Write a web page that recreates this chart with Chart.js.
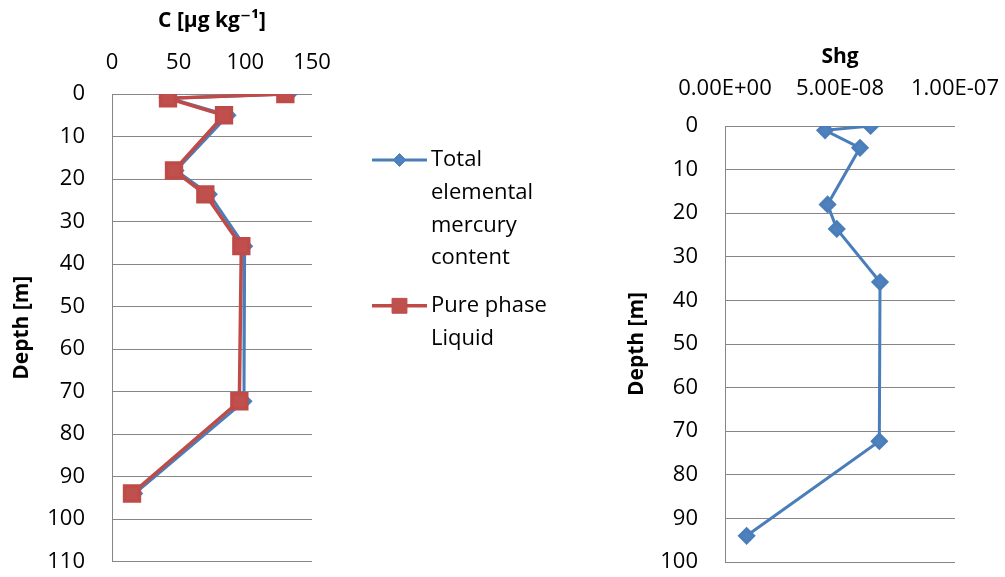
<!DOCTYPE html>
<html>
<head>
<meta charset="utf-8">
<script src="https://cdn.jsdelivr.net/npm/chart.js@4.4.0/dist/chart.umd.min.js"></script>
<style>
  html, body { margin: 0; padding: 0; background: #fff; overflow: hidden; }
  #wrap { position: relative; width: 1005px; height: 577px; overflow: hidden; }
  #concChart { position: absolute; left: 0; top: 0; }
  #shgChart { position: absolute; left: 600px; top: 0; }
</style>
</head>
<body>
<div id="wrap">
  <canvas id="concChart" width="600" height="577"></canvas>
  <canvas id="shgChart" width="460" height="577"></canvas>
</div>
<script>
// Sampling depths (m)
const depths = [0, 1, 5, 18, 23.6, 35.8, 72.3, 94];
// Concentration profiles, µg/kg
const totalHg = [133, 43, 87, 48, 73, 99.5, 99, 17];
const pureLiquid = [130, 42, 84, 46.5, 70, 97, 95.5, 15];
// Shg profile
const shg = [6.33e-8, 4.35e-8, 5.87e-8, 4.46e-8, 4.86e-8, 6.74e-8, 6.71e-8, 0.94e-8];

const seriesNames = [
    ['Total', 'elemental', 'mercury', 'content'],
    ['Pure phase', 'Liquid']
];
const concTicks = [0, 50, 100, 150];
const shgTicks = [0, 5e-8, 1e-7];
const depthTitle = 'Depth [m]';

const FONT = "'Open Sans', 'DejaVu Sans', sans-serif";
Chart.defaults.font.family = FONT;
Chart.defaults.font.size = 22;
Chart.defaults.color = '#000';

const GRID = '#868686';
const BLUE = '#4A7EBB';
const RED = '#BE4B48';

function toPoints(xs) {
    return xs.map((x, i) => ({ x: x, y: depths[i] }));
}

// Excel style scientific labels, e.g. 5.00E-08
function sciLabel(v) {
    const parts = Number(v).toExponential(2).split('e');
    const sign = parts[1][0];
    const exp = parts[1].slice(1).padStart(2, '0');
    return parts[0] + 'E' + sign + exp;
}

// Legend drawn beside the plot with wrapped labels
const sideLegend = {
    id: 'sideLegend',
    afterDraw(chart, args, opts) {
        if (!opts.show) return;
        const ctx = chart.ctx;
        const lineH = 32.7;
        ctx.save();
        ctx.font = '22px ' + FONT;
        ctx.textBaseline = 'middle';
        ctx.textAlign = 'left';
        let y = opts.top;
        chart.data.datasets.forEach((ds, i) => {
            const lines = seriesNames[i];
            ctx.strokeStyle = ds.borderColor;
            ctx.lineWidth = ds.borderWidth;
            ctx.beginPath();
            ctx.moveTo(opts.left, y);
            ctx.lineTo(opts.left + 55, y);
            ctx.stroke();
            ctx.fillStyle = ds.pointBackgroundColor;
            ctx.strokeStyle = ds.pointBorderColor;
            ctx.lineWidth = 1;
            Chart.helpers.drawPoint(ctx, {
                pointStyle: ds.pointStyle,
                radius: ds.pointRadius,
                rotation: 0,
                borderWidth: 1
            }, opts.left + 27.5, y);
            ctx.fillStyle = '#000';
            lines.forEach((t, j) => ctx.fillText(t, opts.left + 59, y + j * lineH));
            y += lines.length * lineH + opts.gap;
        });
        ctx.restore();
    }
};

function depthAxis(max, width, titlePad) {
    return {
        type: 'linear',
        reverse: true,
        min: 0,
        max: max,
        afterFit: (scale) => {
            scale.width = width;
            scale.paddingTop = 0;
            scale.paddingBottom = 0;
        },
        border: { display: true, color: GRID, width: 1 },
        grid: { color: GRID, lineWidth: 1, drawTicks: false },
        ticks: { stepSize: 10, padding: 27 },
        title: {
            display: true,
            text: depthTitle,
            font: { size: 21, weight: 'bold' },
            padding: { top: titlePad, bottom: 0 }
        }
    };
}

new Chart(document.getElementById('concChart'), {
    type: 'scatter',
    data: {
        datasets: [
            {
                label: seriesNames[0].join(' '),
                data: toPoints(totalHg),
                showLine: true,
                borderColor: BLUE,
                borderWidth: 3,
                pointStyle: 'rectRot',
                pointRadius: 6.5,
                pointBackgroundColor: '#4F81BD',
                pointBorderColor: '#4A7EBB',
                order: 2
            },
            {
                label: seriesNames[1].join(' '),
                data: toPoints(pureLiquid),
                showLine: true,
                borderColor: RED,
                borderWidth: 3.5,
                pointStyle: 'rect',
                pointRadius: 10.5,
                pointBackgroundColor: '#C0504D',
                pointBorderColor: '#BE4B48',
                order: 1
            }
        ]
    },
    options: {
        responsive: false,
        animation: false,
        layout: { padding: { left: 0, top: 0, right: 288, bottom: 15.5 } },
        plugins: {
            legend: { display: false },
            tooltip: { enabled: false },
            sideLegend: { show: true, left: 372, top: 160, gap: 15 }
        },
        scales: {
            x: {
                type: 'linear',
                position: 'top',
                min: 0,
                max: 150,
                afterFit: (scale) => { scale.height = 94; },
                afterBuildTicks: (scale) => { scale.ticks = concTicks.map(v => ({ value: v })); },
                border: { display: false },
                grid: { display: false, drawTicks: false },
                ticks: { padding: 18 },
                title: {
                    display: true,
                    text: 'C [µg kg⁻¹]',
                    font: { size: 21, weight: 'bold' },
                    padding: { top: 8, bottom: 0 }
                }
            },
            y: depthAxis(110, 112, 9)
        }
    },
    plugins: [sideLegend]
});

new Chart(document.getElementById('shgChart'), {
    type: 'scatter',
    data: {
        datasets: [
            {
                label: 'Shg',
                data: toPoints(shg),
                showLine: true,
                borderColor: BLUE,
                borderWidth: 3,
                pointStyle: 'rectRot',
                pointRadius: 7,
                pointBackgroundColor: '#4F81BD',
                pointBorderColor: '#4A7EBB'
            }
        ]
    },
    options: {
        responsive: false,
        animation: false,
        layout: { padding: { left: 0, top: 0, right: 105, bottom: 15 } },
        plugins: {
            legend: { display: false },
            tooltip: { enabled: false }
        },
        scales: {
            x: {
                type: 'linear',
                position: 'top',
                min: 0,
                max: 1e-7,
                afterFit: (scale) => { scale.height = 126; },
                afterBuildTicks: (scale) => { scale.ticks = shgTicks.map(v => ({ value: v })); },
                border: { display: false },
                grid: { display: false, drawTicks: false },
                ticks: { padding: 24, callback: (v) => sciLabel(v) },
                title: {
                    display: true,
                    text: 'Shg',
                    font: { size: 21, weight: 'bold' },
                    padding: { top: 44, bottom: 0 }
                }
            },
            y: depthAxis(100, 125, 24)
        }
    }
});
</script>
</body>
</html>
